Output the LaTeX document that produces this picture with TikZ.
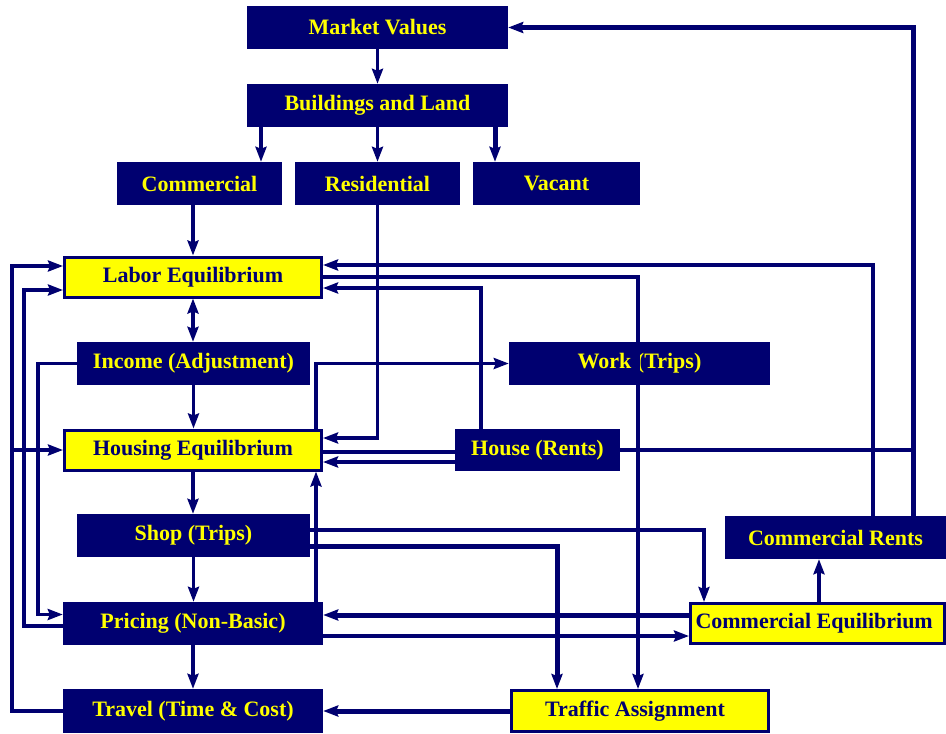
\documentclass[tikz,border=0pt]{standalone}
\usepackage{fontspec}
\setmainfont{Liberation Serif}
\usetikzlibrary{arrows.meta}
\definecolor{navy}{RGB}{0, 0, 112}
\definecolor{lemon}{RGB}{255, 255, 0}

\tikzset{
    navybox/.style={fill=navy, text=lemon, inner sep=0pt, minimum height=43pt,
        font=\fontsize{22}{23}\selectfont\bfseries},
    lemonbox/.style={fill=lemon, draw=navy, line width=3pt, text=navy, inner sep=0pt,
        minimum height=40pt, font=\fontsize{22}{23}\selectfont\bfseries},
    conn/.style={draw=navy, line width=3.5pt, -{Stealth[length=15pt, width=11pt, inset=2pt]}},
    fatconn/.style={conn, line width=5pt},
    plainconn/.style={draw=navy, line width=3.5pt},
}

\begin{document}
\begin{tikzpicture}[x=1pt, y=-1pt]
            \useasboundingbox (0,0) rectangle (946,734);
            % Top of the chain
            \node[navybox, minimum width=261pt] (mv)  at (377.5, 27.5) {Market Values};
            \node[navybox, minimum width=261pt] (bl)  at (377.5,105.5) {Buildings and Land};
            \node[navybox, minimum width=165pt] (com) at (199.5,183.5) {Commercial};
            \node[navybox, minimum width=165pt] (res) at (377.5,183.5) {Residential};
            \node[navybox, minimum width=167pt] (vac) at (556.5,183.5) {Vacant};
            % Left column
            \node[lemonbox, minimum width=257pt] (labor)   at (193.0,277.0) {Labor Equilibrium};
            \node[navybox,  minimum width=233pt] (inc)     at (193.5,363.5) {Income (Adjustment)};
            \node[lemonbox, minimum width=257pt] (housing) at (193.0,450.0) {Housing Equilibrium};
            \node[navybox,  minimum width=233pt] (shop)    at (193.5,535.5) {Shop (Trips)};
            \node[navybox,  minimum width=260pt] (pricing) at (193.0,623.5) {Pricing (Non-Basic)};
            \node[navybox,  minimum width=260pt, minimum height=44pt] (travel) at (193.0,711.0) {Travel (Time \& Cost)};
            % Right side
            \node[navybox,  minimum width=261pt] (work)    at (639.5,363.5) {Work (Trips)};
            \node[navybox,  minimum width=165pt, minimum height=42pt] (house) at (537.5,450.0) {House (Rents)};
            \node[navybox,  minimum width=221pt] (crents)  at (835.5,537.5) {Commercial Rents};
            \node[lemonbox, minimum width=254pt] (ceq) at (817.5,623.5) {\makebox[244pt][l]{Commercial Equilibrium}};
            \node[lemonbox, minimum width=257pt, minimum height=41pt] (traffic) at (640.0,711.0) {\hspace*{-10pt}Traffic Assignment};
            % Downward chain
            \draw[conn]    (mv) -- (bl);
            \draw[conn]    (bl.south -| 261,0) -- (com.north -| 261,0);
            \draw[conn]    (bl) -- (res);
            \draw[fatconn] (bl.south -| 495,0) -- (vac.north -| 495,0);
            \draw[conn]    (com.south -| labor.north) -- (labor.north);
            \draw[conn]    (res.south) |- ([yshift=12pt]housing.east);
            \draw[conn, {Stealth[length=15pt, width=11pt, inset=2pt]}-{Stealth[length=15pt, width=11pt, inset=2pt]}]
                           (labor.south) -- (labor.south |- inc.north);
            \draw[conn]    (inc.south) -- (inc.south |- housing.north);
            \draw[conn]    (housing.south) -- (housing.south |- shop.north);
            \draw[conn]    (shop.south) -- (shop.south |- pricing.north);
            \draw[conn]    (pricing.south) -- (pricing.south |- travel.north);
            % Feedback loops on the left
            \draw[conn]    (travel.west) -- ++(-51,0) |- ([yshift=11pt]labor.west);
            \draw[conn]    ([yshift=-2.5pt]pricing.west) -- ++(-39,0) |- ([yshift=-13pt]labor.west);
            \draw[conn]    (inc.west) -- ++(-39,0) |- ([yshift=9pt]pricing.west);
            \draw[conn]    (housing.west -| 12,0) -- (housing.west);
            % Links across the middle
            \draw[conn]    (crents.north -| 873,0) |- ([yshift=12pt]labor.east);
            \draw[conn]    (labor.east) -| (traffic.north -| 638,0);
            \draw[conn]    (house.north -| 481,0) |- ([yshift=-11pt]labor.east);
            \draw[conn]    (housing.north -| 316,0) |- (work.west);
            \draw[plainconn] ([yshift=-2pt]housing.east) -- ([yshift=-2pt]house.west);
            \draw[conn]    ([yshift=-12pt]house.west) -- ([yshift=-12pt]housing.east);
            \draw[conn]    (pricing.north -| 316,0) -- (housing.south -| 316,0);
            % Trips to the right
            \draw[conn]    ([yshift=5.5pt]shop.east) -| (ceq.north -| 704,0);
            \draw[fatconn] ([yshift=-10.5pt]shop.east) -| (traffic.north -| 557,0);
            \draw[fatconn] ([yshift=8.5pt]ceq.west) -- ([yshift=8.5pt]pricing.east);
            \draw[conn]    ([yshift=-12.5pt]pricing.east) -- ([yshift=-12.5pt]ceq.west);
            \draw[conn]    (ceq.north -| 819,0) -- (crents.south -| 819,0);
            \draw[fatconn] (traffic.west) -- (travel.east);
            % Rents back to market values
            \draw[fatconn] (crents.north -| 913,0) |- (mv.east);
            \draw[plainconn] (house.east) -- (house.east -| 915,0);
        \end{tikzpicture}
\end{document}
